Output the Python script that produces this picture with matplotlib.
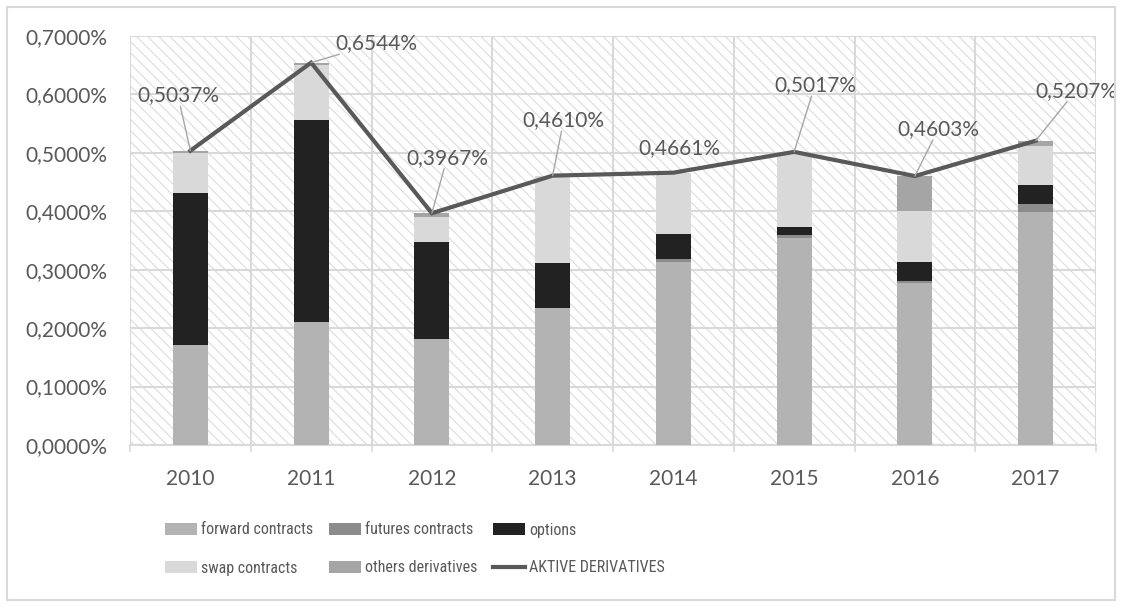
import numpy as np
import matplotlib
matplotlib.use("Agg")
import matplotlib.pyplot as plt
from matplotlib import font_manager
from matplotlib.patches import Patch, Rectangle
from matplotlib.lines import Line2D

years = ["2010", "2011", "2012", "2013", "2014", "2015", "2016", "2017"]

# shares in percent
forward = [0.1720, 0.2110, 0.1820, 0.2340, 0.3130, 0.3540, 0.2780, 0.3985]
futures = [0.0000, 0.0000, 0.0000, 0.0000, 0.0050, 0.0050, 0.0030, 0.0140]
options = [0.2590, 0.3460, 0.1650, 0.0770, 0.0430, 0.0140, 0.0320, 0.0330]
swaps = [0.0690, 0.0940, 0.0430, 0.1500, 0.1051, 0.1287, 0.0870, 0.0670]
others = [0.0037, 0.0034, 0.0067, 0.0000, 0.0000, 0.0000, 0.0603, 0.0082]
aktive = [0.5037, 0.6544, 0.3967, 0.4610, 0.4661, 0.5017, 0.4603, 0.5207]

# label offsets from the line point, in points
label_dx = [-9, 47, 11, 8, 4, 15, 17, 29]
label_dy = [40, 14, 40, 40, 18, 48, 34, 36]

available = {f.name for f in font_manager.fontManager.ttflist}
main_font = "Lato" if "Lato" in available else "DejaVu Sans"
narrow = main_font
for cand in ["Liberation Sans Narrow", "DejaVu Sans Condensed", "Roboto Condensed"]:
    if cand in available:
        narrow = cand
        break

plt.rcParams["font.family"] = [main_font, "DejaVu Sans"]
plt.rcParams["hatch.linewidth"] = 0.8

text_color = "#595959"
grid_color = "#d9d9d9"

fig = plt.figure(figsize=(11.26, 6.06), dpi=100)
ax = fig.add_axes([130 / 1126, 1 - 445 / 606, (1096 - 130) / 1126, (445 - 36) / 606])

ax.patch.set_facecolor("white")
ax.patch.set_hatch("\\\\\\")
ax.patch.set_edgecolor("#dcdcdc")

x = np.arange(len(years))
w = 0.29
series = [
    ("forward contracts", forward, "#b3b3b3"),
    ("futures contracts", futures, "#8c8c8c"),
    ("options", options, "#222222"),
    ("swap contracts", swaps, "#d9d9d9"),
    ("others derivatives", others, "#a5a5a5"),
]
bottom = np.zeros(len(years))
handles = []
for name, vals, color in series:
    vals = np.array(vals)
    ax.bar(x, vals, w, bottom=bottom, color=color, zorder=3, linewidth=0)
    bottom += vals
    handles.append(Patch(facecolor=color, label=name))

ax.plot(x, aktive, color="#595959", linewidth=3, zorder=4, solid_joinstyle="miter")
line_handle = Line2D([], [], color="#595959", linewidth=3, label="AKTIVE DERIVATIVES")

for i, v in enumerate(aktive):
    arrow = None if i == 4 else dict(arrowstyle="-", color="#a6a6a6", lw=1, shrinkA=0, shrinkB=0)
    ax.annotate(f"{v:.4f}%".replace(".", ","), xy=(x[i], v),
                xytext=(label_dx[i], label_dy[i]), textcoords="offset points",
                ha="center", va="center", fontsize=15, color=text_color,
                arrowprops=arrow, zorder=5,
                bbox=dict(boxstyle="square,pad=0.05", fc="none", ec="none"))

ax.set_xlim(-0.5, len(years) - 0.5)
ax.set_ylim(0, 0.7)
ax.set_yticks(np.arange(0, 0.71, 0.1))
ax.set_yticklabels([f"{t:.4f}%".replace(".", ",") for t in np.arange(0, 0.71, 0.1)])
ax.set_xticks(x)
ax.set_xticklabels(years)
ax.set_xticks(np.arange(-0.5, len(years)), minor=True)

ax.tick_params(axis="y", length=0, pad=16, labelsize=15, labelcolor=text_color)
ax.tick_params(axis="x", which="major", length=0, pad=17, labelsize=15, labelcolor=text_color)
ax.tick_params(axis="x", which="minor", length=5, width=1.2, color=grid_color)

ax.grid(axis="y", which="major", color=grid_color, linewidth=1.5, zorder=1)
ax.grid(axis="x", which="minor", color=grid_color, linewidth=1.5, zorder=1)
ax.set_axisbelow(True)
for side in ["top", "left", "right"]:
    ax.spines[side].set_visible(False)
ax.spines["bottom"].set_color(grid_color)
ax.spines["bottom"].set_linewidth(1.5)

# legend font sized from the width of "forward contracts" (reference text is condensed)
renderer = fig.canvas.get_renderer()
probe = fig.text(0, 0, "forward contracts", family=narrow, size=12)
probe_w = probe.get_window_extent(renderer).width
probe.remove()
leg_size = 12 * 112 / probe_w
px_em = leg_size * 100 / 72

leg_handles = [handles[0], handles[3], handles[1], handles[4], handles[2], line_handle]


def make_legend(colspace, rowspace, top_px):
    return fig.legend(handles=leg_handles, loc="upper left",
                      bbox_to_anchor=(165 / 1126, 1 - top_px / 606),
                      ncol=3, frameon=False, borderpad=0, borderaxespad=0,
                      handlelength=32 / px_em, handleheight=12 / px_em, handletextpad=4 / px_em,
                      columnspacing=colspace, labelspacing=rowspace,
                      prop={"family": narrow, "size": leg_size}, labelcolor=text_color)


# first pass, then fix column pitch (164 px) and row centres (530 / 568 px)
rowspace0 = 1.2
top0 = 520
leg = make_legend(1.0, rowspace0, top0)
fig.canvas.draw()
texts = leg.get_texts()
col_w = max(t.get_window_extent(renderer).width for t in texts[:4])
ext0 = texts[0].get_window_extent(renderer)
ext1 = texts[1].get_window_extent(renderer)
c0 = 606 - (ext0.y0 + ext0.y1) / 2
c1 = 606 - (ext1.y0 + ext1.y1) / 2
leg.remove()

gap = 164 - (32 + 4 + col_w)
rowspace = rowspace0 + (38 - (c1 - c0)) / px_em
top = top0 + (530 - c0)
leg = make_legend(max(gap, 2) / px_em, rowspace, top)

fig.patches.append(Rectangle((7 / 1126, 6 / 606), (1115 - 7) / 1126, (600 - 7) / 606,
                             transform=fig.transFigure, fill=False, edgecolor=grid_color, linewidth=1.5))

fig.savefig("out.png", dpi=100)
plt.close(fig)
